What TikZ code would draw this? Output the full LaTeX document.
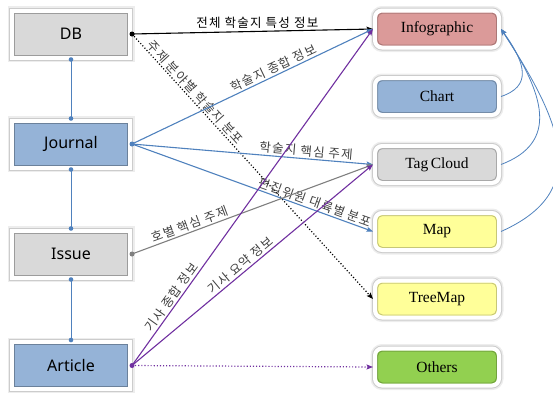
\documentclass[tikz,border=0pt]{standalone}
\usepackage{fontspec}
\setmainfont{Liberation Serif}
\newfontfamily\krfont[LetterSpace=10]{Noto Sans CJK KR}
\newfontfamily\boxsans{Noto Sans}
\usetikzlibrary{arrows.meta,calc}

\definecolor{boxgray}{HTML}{D9D9D9}
\definecolor{boxblue}{HTML}{95B3D7}
\definecolor{boxpink}{HTML}{DB9A99}
\definecolor{boxyellow}{HTML}{FFFF99}
\definecolor{boxgreen}{HTML}{92D050}
\definecolor{lnblue}{HTML}{4F81BD}
\definecolor{lnpurple}{HTML}{7030A0}
\definecolor{lngray}{HTML}{7F7F7F}
\definecolor{lbltext}{HTML}{404040}

\tikzset{
  leftbox/.style={rectangle, minimum width=118pt, minimum height=47pt,
    fill=#1, draw=white, line width=4pt,
    preaction={draw=black!7, line width=9pt},
    preaction={draw=black!20, line width=6pt},
    path picture={\draw[line width=1pt, #1!72!black]
      ($(path picture bounding box.south west)+(2.5pt,2.5pt)$) rectangle
      ($(path picture bounding box.north east)+(-2.5pt,-2.5pt)$);},
    font=\boxsans\fontsize{16}{16}\selectfont, text=black},
  rightbox/.style={rectangle, rounded corners=7pt, minimum width=124pt, minimum height=37pt,
    fill=#1, draw=white, line width=4pt,
    preaction={draw=black!7, line width=9pt},
    preaction={draw=black!20, line width=6pt},
    path picture={\draw[line width=1pt, rounded corners=5pt, #1!78!black]
      ($(path picture bounding box.south west)+(2.5pt,2.5pt)$) rectangle
      ($(path picture bounding box.north east)+(-2.5pt,-2.5pt)$);},
    font=\fontsize{15.5}{15.5}\selectfont, text=black},
  link/.style={line width=1.1pt, -{Stealth[length=6.5pt,width=5pt,inset=1.2pt]}},
  vlink/.style={line width=1pt, lnblue},
  curvelink/.style={line width=0.8pt, lnblue, -{Stealth[length=6pt,width=5pt,inset=1.2pt]}},
  lbl/.style={font=\krfont\fontsize{12.5}{12.5}\selectfont, text=lbltext, inner sep=1.5pt},
}

\begin{document}
\begin{tikzpicture}[x=1pt,y=-1pt]
\useasboundingbox (0,0) rectangle (553,392);

% data sources
\node[leftbox=boxgray] (db) at (71,34) {DB};
\node[leftbox=boxblue] (journal) at (71,144) {Journal};
\node[leftbox=boxgray] (issue) at (71,254) {Issue};
\node[leftbox=boxblue] (article) at (71,365.5) {Article};

% visualisations
\node[rightbox=boxpink] (info) at (437,29) {Infographic};
\node[rightbox=boxblue] (chart) at (437,96.5) {Chart};
\node[rightbox=boxgray] (cloud) at (437,164.5) {Tag\,Cloud};
\node[rightbox=boxyellow] (map) at (437,231.5) {Map};
\node[rightbox=boxyellow] (treemap) at (437,299) {TreeMap};
\node[rightbox=boxgreen] (others) at (437,367) {Others};

% hierarchy
\draw[vlink] (db.south) -- (journal.north);
\draw[vlink] (journal.south) -- (issue.north);
\draw[vlink] (issue.south) -- (article.north);
\foreach \p in {db.south,journal.north,journal.south,issue.north,issue.south,article.north}
  \fill[lnblue] (\p) circle (2.3pt);

% DB
\draw[link, black] (db.east) -- node[lbl, text=black, pos=0.52, above, yshift=1pt] {전체 학술지 특성 정보} (info.west);
\draw[link, black, dotted, line width=1.2pt] (db.east) -- node[lbl, pos=0.24, above, sloped] {주제 분야별 학술지 분포} (treemap.west);
\fill[black] (db.east) circle (2.5pt);

% Journal
\draw[link, lnblue] (journal.east) -- node[lbl, pos=0.6, above, sloped] {학술지 종합 정보} (info.west);
\draw[link, lnblue] (journal.east) -- node[lbl, pos=0.72, above, sloped] {학술지 핵심 주제} (cloud.west);
\draw[link, lnblue] (journal.east) -- node[lbl, pos=0.75, above, sloped] {편집위원 대륙별 분포} (map.west);
\fill[lnblue] (journal.east) circle (2.5pt);

% Issue
\draw[link, lngray] (issue.east) -- node[lbl, pos=0.25, above, sloped] {호별 핵심 주제} (cloud.west);
\fill[lngray] (issue.east) circle (2.5pt);

% Article
\draw[link, lnpurple] (article.east) -- node[lbl, pos=0.19, above, sloped] {기사 종합 정보} (info.west);
\draw[link, lnpurple] (article.east) -- node[lbl, pos=0.47, above, sloped] {기사 요약 정보} (cloud.west);
\draw[link, lnpurple, dotted, line width=1.2pt] (article.east) -- (others.west);
\fill[lnpurple] (article.east) circle (2.5pt);

% feedback into the infographic
\draw[curvelink] (chart.east) .. controls +(30,-10) and +(26,36) .. (info.east);
\draw[curvelink] (cloud.east) .. controls +(58,-22) and +(44,66) .. (info.east);
\draw[curvelink] (map.east) .. controls +(90,-40) and +(62,95) .. (info.east);
\end{tikzpicture}
\end{document}
